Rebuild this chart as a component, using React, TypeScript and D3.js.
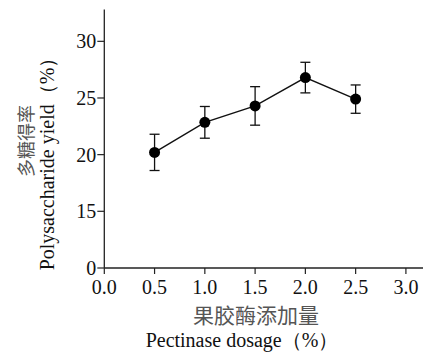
import React from "react";
import * as d3 from "d3";

const dosage = [0.5, 1.0, 1.5, 2.0, 2.5];
const yieldMean = [20.2, 22.85, 24.3, 26.8, 24.9];
const yieldErr = [1.6, 1.4, 1.7, 1.35, 1.25];
const xTicks = [0, 0.5, 1.0, 1.5, 2.0, 2.5, 3.0];
const yTicks = [0, 15, 20, 25, 30];
const xLabelCn = "果胶酶添加量";
const xLabelEn = "Pectinase dosage（%）";
const yLabelCn = "多糖得率";
const yLabelEn = "Polysaccharide yield（%）";

export default function App() {
  const W = 425, H = 362;
  const x = d3.scaleLinear().domain([0, 3.17]).range([104.3, 423]);
  const y = d3.scaleLinear().domain([0, 15, 32.8]).range([268, 211.3, 9.6]);
  const line = d3.line<number>().x((_, i) => x(dosage[i])).y((d) => y(d));
  const serif = "'Liberation Serif', 'Times New Roman', serif";
  const cn = "'Noto Sans CJK SC', sans-serif";
  const ax = "#222";
  return (
    <svg width={W} height={H} style={{ position: "absolute", left: 0, top: 0, background: "#fff" }}>
      <line x1={x(0)} x2={x(0)} y1={y(32.8)} y2={y(0)} stroke={ax} strokeWidth={1.3} />
      <line x1={x(0)} x2={x(3.17)} y1={y(0)} y2={y(0)} stroke={ax} strokeWidth={1.3} />
      {yTicks.map((t) => (
        <g key={"y" + t}>
          <line x1={x(0) - 7} x2={x(0)} y1={y(t)} y2={y(t)} stroke={ax} strokeWidth={1.2} />
          <text x={x(0) - 8} y={y(t)} dy="0.35em" textAnchor="end" fontFamily={serif} fontSize={20} fill="#111">
            {t}
          </text>
        </g>
      ))}
      {xTicks.map((t) => (
        <g key={"x" + t}>
          <line x1={x(t)} x2={x(t)} y1={y(0)} y2={y(0) + 6} stroke={ax} strokeWidth={1.2} />
          <text x={x(t)} y={294} textAnchor="middle" fontFamily={serif} fontSize={20} fill="#111">
            {t.toFixed(1)}
          </text>
        </g>
      ))}
      <path d={line(yieldMean) || ""} fill="none" stroke="#111" strokeWidth={1.4} />
      {dosage.map((d, i) => {
        const cx = x(d);
        const top = y(yieldMean[i] + yieldErr[i]);
        const bot = y(yieldMean[i] - yieldErr[i]);
        return (
          <g key={"p" + i}>
            <line x1={cx} x2={cx} y1={top} y2={bot} stroke="#111" strokeWidth={1.3} />
            <line x1={cx - 5} x2={cx + 5} y1={top} y2={top} stroke="#111" strokeWidth={1.3} />
            <line x1={cx - 5} x2={cx + 5} y1={bot} y2={bot} stroke="#111" strokeWidth={1.3} />
            <circle cx={cx} cy={y(yieldMean[i])} r={5.5} fill="#000" />
          </g>
        );
      })}
      <text x={256} y={323} textAnchor="middle" fontFamily={cn} fontSize={21} fill="#555">
        {xLabelCn}
      </text>
      <text x={242} y={347} textAnchor="middle" fontFamily={serif} fontSize={20} fill="#111">
        {xLabelEn}
      </text>
      <text transform={`translate(33,141) rotate(-90)`} textAnchor="middle" fontFamily={cn} fontSize={18} fill="#555">
        {yLabelCn}
      </text>
      <text transform={`translate(54,159) rotate(-90)`} textAnchor="middle" fontFamily={serif} fontSize={20} fill="#111">
        {yLabelEn}
      </text>
    </svg>
  );
}
